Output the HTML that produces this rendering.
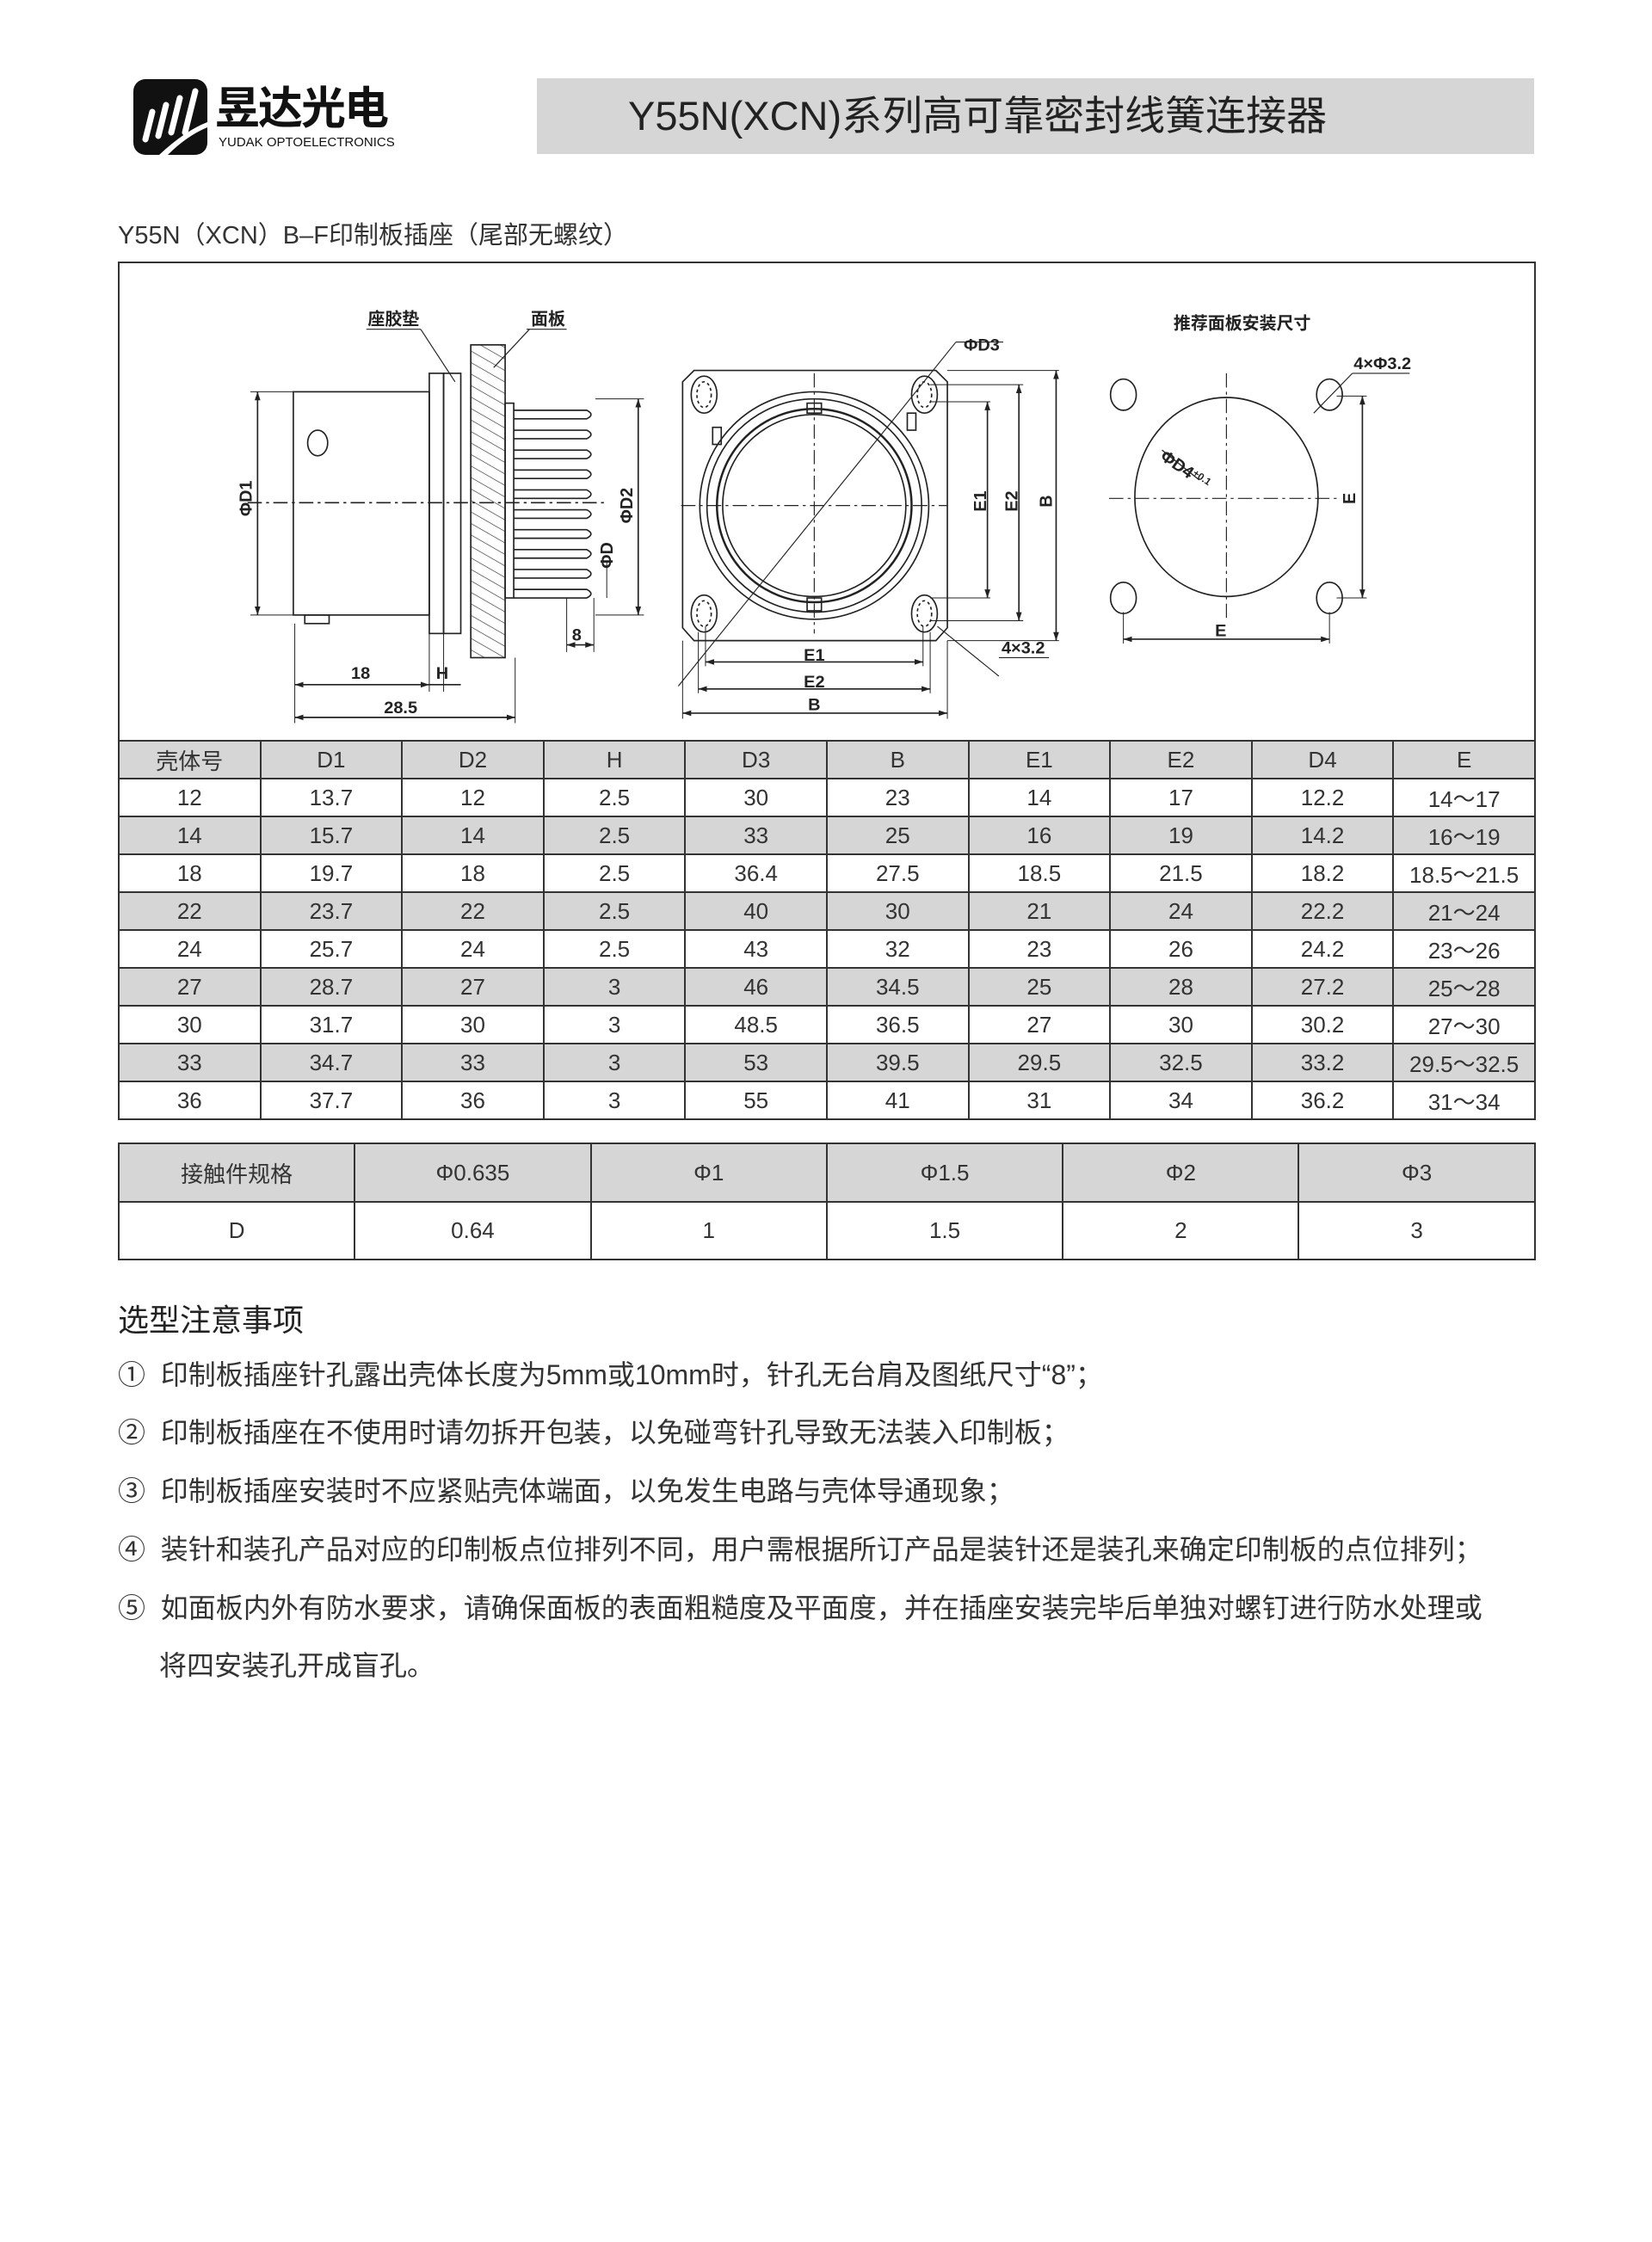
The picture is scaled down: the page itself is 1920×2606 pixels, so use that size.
<!DOCTYPE html>
<html><head><meta charset="utf-8"><style>
body{margin:0;background:#fff;}
.page{position:relative;width:1920px;height:2606px;overflow:hidden;background:#fff;font-family:"Liberation Sans","Noto Sans CJK SC",sans-serif;color:#222;}
.abs{position:absolute;}
table{border-collapse:collapse;position:absolute;table-layout:fixed;font-family:"Liberation Sans Narrow","Liberation Sans","Noto Sans CJK SC",sans-serif;}
td{border:2px solid #333;text-align:center;font-size:26px;color:#333;padding:0;}
.g td{background:#d6d6d6;}
.note{position:absolute;left:137px;font-size:32px;color:#333;white-space:nowrap;}
</style></head><body><div class="page">
<div class="abs" style="left:155px;top:92px;width:86px;height:88px;background:#111;border-radius:14px;overflow:hidden">
<svg width="86" height="88" viewBox="0 0 86 88"><g stroke="#fff" stroke-width="7" stroke-linecap="round"><line x1="22" y1="38" x2="14" y2="70"/><line x1="38" y1="30" x2="29" y2="66"/><line x1="54" y1="22" x2="44" y2="62"/><line x1="72" y1="14" x2="60" y2="62"/></g><path d="M30 88 Q60 60 86 50 L86 56 Q62 66 40 88Z" fill="#fff"/></svg></div>
<div class="abs" style="left:250px;top:92px;font-size:52px;font-weight:bold;color:#111;font-family:'Noto Sans CJK SC',sans-serif;line-height:60px;letter-spacing:-2px">昱达光电</div>
<div class="abs" style="left:254px;top:157px;font-size:15px;color:#111;">YUDAK OPTOELECTRONICS</div>
<div class="abs" style="left:624px;top:91px;width:1159px;height:88px;background:#d6d6d6;"></div>
<div class="abs" style="left:730px;top:91px;height:88px;line-height:88px;font-size:47px;color:#222;white-space:nowrap;font-family:'Liberation Sans Narrow','Liberation Sans','Noto Sans CJK SC',sans-serif">Y55N(XCN)系列高可靠密封线簧连接器</div>
<div class="abs" style="left:137px;top:250px;font-size:29px;color:#333;font-family:'Liberation Sans Narrow','Liberation Sans','Noto Sans CJK SC',sans-serif">Y55N（XCN）B–F印制板插座（尾部无螺纹）</div>
<div class="abs" style="left:137px;top:304px;width:1644px;height:556px;border:2px solid #333;border-bottom:none;"></div>
<svg class="abs" style="left:138px;top:305px" width="1645" height="552" viewBox="83 184 989 334" preserveAspectRatio="none" font-family="Liberation Sans, Noto Sans CJK SC, sans-serif" font-weight="bold" font-size="12" fill="none" stroke="#222" stroke-width="1">
<defs><pattern id="h" width="7" height="7" patternUnits="userSpaceOnUse" patternTransform="rotate(-60)"><line x1="0" y1="0" x2="0" y2="7" stroke="#333" stroke-width="0.8"/></pattern>
<marker id="a" markerWidth="6" markerHeight="6" refX="6" refY="3" orient="auto-start-reverse"><path d="M0,1 L6,3 L0,5Z" fill="#222" stroke="none"/></marker></defs>
<rect x="205" y="275" width="95" height="157"/>
<ellipse cx="222" cy="311" rx="7" ry="9"/>
<rect x="213" y="432" width="17" height="6"/>
<rect x="300" y="262" width="10" height="183"/><rect x="310" y="262" width="12" height="183"/>
<rect x="329" y="242" width="24" height="220" fill="url(#h)"/>
<rect x="353" y="283" width="6" height="137"/>
<g stroke-width="1">
<path d="M359 288 H410 Q416 291 410 294 H359"/><path d="M359 302 H410 Q416 305 410 308 H359"/><path d="M359 316 H410 Q416 319 410 322 H359"/><path d="M359 330 H410 Q416 333 410 336 H359"/><path d="M359 344 H410 Q416 347 410 350 H359"/><path d="M359 358 H410 Q416 361 410 364 H359"/><path d="M359 372 H410 Q416 375 410 378 H359"/><path d="M359 386 H410 Q416 389 410 392 H359"/><path d="M359 400 H410 Q416 403 410 406 H359"/><path d="M359 414 H410 Q416 417 410 420 H359"/>
</g>
<line x1="173" y1="353" x2="425" y2="353" stroke-dasharray="10 3 2 3"/>
<line x1="180" y1="275" x2="180" y2="432" marker-start="url(#a)" marker-end="url(#a)"/>
<line x1="175" y1="275" x2="205" y2="275" stroke-width=".6"/><line x1="175" y1="432" x2="205" y2="432" stroke-width=".6"/>
<line x1="446" y1="280" x2="446" y2="432" marker-start="url(#a)" marker-end="url(#a)"/>
<line x1="416" y1="280" x2="450" y2="280" stroke-width=".6"/><line x1="416" y1="432" x2="450" y2="432" stroke-width=".6"/>
<line x1="424" y1="395" x2="424" y2="420" stroke-width=".6"/>
<line x1="206" y1="438" x2="206" y2="508" stroke-width=".6"/><line x1="300" y1="445" x2="300" y2="486" stroke-width=".6"/><line x1="310" y1="445" x2="310" y2="486" stroke-width=".6"/><line x1="360" y1="462" x2="360" y2="508" stroke-width=".6"/>
<line x1="396" y1="420" x2="396" y2="458" stroke-width=".6"/><line x1="415" y1="420" x2="415" y2="458" stroke-width=".6"/>
<line x1="396" y1="453" x2="415" y2="453" marker-start="url(#a)" marker-end="url(#a)"/>
<line x1="206" y1="481" x2="300" y2="481" marker-start="url(#a)" marker-end="url(#a)"/>
<line x1="300" y1="481" x2="322" y2="481"/>
<line x1="206" y1="504" x2="360" y2="504" marker-start="url(#a)" marker-end="url(#a)"/>
<g fill="#222" stroke="none">
<text x="252" y="477" text-anchor="middle">18</text><text x="309" y="477" text-anchor="middle">H</text><text x="280" y="501" text-anchor="middle">28.5</text><text x="403" y="450" text-anchor="middle">8</text>
<text transform="translate(176,350) rotate(-90)" text-anchor="middle">ΦD1</text>
<text transform="translate(442,355) rotate(-90)" text-anchor="middle">ΦD2</text>
<text transform="translate(428,390) rotate(-90)" text-anchor="middle">ΦD</text>
<text x="275" y="228" text-anchor="middle">座胶垫</text><text x="383" y="228" text-anchor="middle">面板</text>
</g>
<line x1="256" y1="231" x2="294" y2="231" stroke-width=".7"/><line x1="368" y1="231" x2="396" y2="231" stroke-width=".7"/>
<line x1="294" y1="231" x2="318" y2="268" stroke-width=".7"/><line x1="370" y1="231" x2="345" y2="258" stroke-width=".7"/>
<path d="M485 260 H654 L662 268 V441 L654 450 H485 L477 441 V268Z"/>
<g>
<ellipse cx="492" cy="277" rx="9" ry="13"/><ellipse cx="646" cy="277" rx="9" ry="13"/><ellipse cx="492" cy="431" rx="9" ry="13"/><ellipse cx="646" cy="431" rx="9" ry="13"/>
<ellipse cx="492" cy="277" rx="5" ry="9" stroke-dasharray="2 2"/><ellipse cx="646" cy="277" rx="5" ry="9" stroke-dasharray="2 2"/><ellipse cx="492" cy="431" rx="5" ry="9" stroke-dasharray="2 2"/><ellipse cx="646" cy="431" rx="5" ry="9" stroke-dasharray="2 2"/>
</g>
<circle cx="569" cy="355" r="80"/><circle cx="569" cy="355" r="75"/><circle cx="569" cy="355" r="68" stroke-width="1.5"/><circle cx="569" cy="355" r="64"/>
<rect x="564" y="283" width="10" height="7"/><rect x="564" y="420" width="10" height="9"/><rect x="634" y="290" width="6" height="12"/><rect x="498" y="300" width="6" height="12"/>
<line x1="569" y1="262" x2="569" y2="445" stroke-dasharray="10 3 2 3" stroke-width=".7"/>
<line x1="476" y1="355" x2="662" y2="355" stroke-dasharray="10 3 2 3" stroke-width=".7"/>
<line x1="474" y1="482" x2="668" y2="240" stroke-width=".7"/>
<line x1="668" y1="240" x2="701" y2="240" stroke-width=".7"/>
<line x1="650" y1="282" x2="692" y2="282" stroke-width=".6"/><line x1="650" y1="420" x2="692" y2="420" stroke-width=".6"/>
<line x1="650" y1="270" x2="715" y2="270" stroke-width=".6"/><line x1="650" y1="436" x2="715" y2="436" stroke-width=".6"/>
<line x1="662" y1="260" x2="740" y2="260" stroke-width=".6"/><line x1="662" y1="450" x2="740" y2="450" stroke-width=".6"/>
<line x1="690" y1="282" x2="690" y2="420" marker-start="url(#a)" marker-end="url(#a)"/>
<line x1="712" y1="270" x2="712" y2="436" marker-start="url(#a)" marker-end="url(#a)"/>
<line x1="738" y1="260" x2="738" y2="450" marker-start="url(#a)" marker-end="url(#a)"/>
<line x1="493" y1="440" x2="493" y2="468" stroke-width=".6"/><line x1="645" y1="440" x2="645" y2="468" stroke-width=".6"/>
<line x1="488" y1="444" x2="488" y2="487" stroke-width=".6"/><line x1="650" y1="444" x2="650" y2="487" stroke-width=".6"/>
<line x1="477" y1="450" x2="477" y2="505" stroke-width=".6"/><line x1="662" y1="450" x2="662" y2="505" stroke-width=".6"/>
<line x1="493" y1="465" x2="645" y2="465" marker-start="url(#a)" marker-end="url(#a)"/>
<line x1="488" y1="484" x2="650" y2="484" marker-start="url(#a)" marker-end="url(#a)"/>
<line x1="477" y1="501" x2="662" y2="501" marker-start="url(#a)" marker-end="url(#a)"/>
<line x1="655" y1="440" x2="698" y2="475" stroke-width=".7"/><line x1="698" y1="462" x2="733" y2="462" stroke-width=".7"/>
<g fill="#222" stroke="none">
<text x="686" y="246" text-anchor="middle">ΦD3</text>
<text x="569" y="464" text-anchor="middle">E1</text><text x="569" y="483" text-anchor="middle">E2</text><text x="569" y="499" text-anchor="middle">B</text>
<text transform="translate(689,352) rotate(-90)" text-anchor="middle">E1</text>
<text transform="translate(711,352) rotate(-90)" text-anchor="middle">E2</text>
<text transform="translate(735,352) rotate(-90)" text-anchor="middle">B</text>
<text x="715" y="459" text-anchor="middle">4×3.2</text>
<text x="868" y="231" text-anchor="middle">推荐面板安装尺寸</text>
<text x="966" y="259" text-anchor="middle">4×Φ3.2</text>
<text x="853" y="447" text-anchor="middle">E</text>
<text transform="translate(947,350) rotate(-90)" text-anchor="middle">E</text>
<text transform="translate(810,322) rotate(35)">ΦD4<tspan font-size="7" dy="-4">+0.1</tspan></text>
</g>
<ellipse cx="785" cy="277" rx="9" ry="11"/><ellipse cx="929" cy="277" rx="9" ry="11"/><ellipse cx="785" cy="420" rx="9" ry="11"/><ellipse cx="929" cy="420" rx="9" ry="11"/>
<ellipse cx="857" cy="349" rx="64" ry="70"/>
<line x1="857" y1="262" x2="857" y2="436" stroke-dasharray="10 3 2 3" stroke-width=".7"/>
<line x1="775" y1="350" x2="935" y2="350" stroke-dasharray="10 3 2 3" stroke-width=".7"/>
<line x1="812" y1="316" x2="838" y2="337" stroke-width=".8"/>
<line x1="934" y1="278" x2="955" y2="278" stroke-width=".6"/><line x1="934" y1="420" x2="955" y2="420" stroke-width=".6"/>
<line x1="952" y1="278" x2="952" y2="420" marker-start="url(#a)" marker-end="url(#a)"/>
<line x1="785" y1="430" x2="785" y2="452" stroke-width=".6"/><line x1="929" y1="430" x2="929" y2="452" stroke-width=".6"/>
<line x1="785" y1="449" x2="929" y2="449" marker-start="url(#a)" marker-end="url(#a)"/>
<line x1="918" y1="290" x2="945" y2="262" stroke-width=".7"/><line x1="945" y1="262" x2="985" y2="262" stroke-width=".7"/>
</svg>
<table style="left:137px;top:860px;width:1646px;">
<colgroup><col span="10" style="width:164.6px"></colgroup>
<tr class="g" style="height:44px"><td>壳体号</td><td>D1</td><td>D2</td><td>H</td><td>D3</td><td>B</td><td>E1</td><td>E2</td><td>D4</td><td>E</td></tr>
<tr style="height:44px"><td>12</td><td>13.7</td><td>12</td><td>2.5</td><td>30</td><td>23</td><td>14</td><td>17</td><td>12.2</td><td>14～17</td></tr>
<tr class="g" style="height:44px"><td>14</td><td>15.7</td><td>14</td><td>2.5</td><td>33</td><td>25</td><td>16</td><td>19</td><td>14.2</td><td>16～19</td></tr>
<tr style="height:44px"><td>18</td><td>19.7</td><td>18</td><td>2.5</td><td>36.4</td><td>27.5</td><td>18.5</td><td>21.5</td><td>18.2</td><td>18.5～21.5</td></tr>
<tr class="g" style="height:44px"><td>22</td><td>23.7</td><td>22</td><td>2.5</td><td>40</td><td>30</td><td>21</td><td>24</td><td>22.2</td><td>21～24</td></tr>
<tr style="height:44px"><td>24</td><td>25.7</td><td>24</td><td>2.5</td><td>43</td><td>32</td><td>23</td><td>26</td><td>24.2</td><td>23～26</td></tr>
<tr class="g" style="height:44px"><td>27</td><td>28.7</td><td>27</td><td>3</td><td>46</td><td>34.5</td><td>25</td><td>28</td><td>27.2</td><td>25～28</td></tr>
<tr style="height:44px"><td>30</td><td>31.7</td><td>30</td><td>3</td><td>48.5</td><td>36.5</td><td>27</td><td>30</td><td>30.2</td><td>27～30</td></tr>
<tr class="g" style="height:44px"><td>33</td><td>34.7</td><td>33</td><td>3</td><td>53</td><td>39.5</td><td>29.5</td><td>32.5</td><td>33.2</td><td>29.5～32.5</td></tr>
<tr style="height:44px"><td>36</td><td>37.7</td><td>36</td><td>3</td><td>55</td><td>41</td><td>31</td><td>34</td><td>36.2</td><td>31～34</td></tr>
</table>
<table style="left:137px;top:1328px;width:1646px;">
<colgroup><col span="6" style="width:274.3px"></colgroup>
<tr class="g" style="height:68px"><td>接触件规格</td><td>Φ0.635</td><td>Φ1</td><td>Φ1.5</td><td>Φ2</td><td>Φ3</td></tr>
<tr style="height:67px"><td>D</td><td>0.64</td><td>1</td><td>1.5</td><td>2</td><td>3</td></tr>
</table>
<div class="abs" style="left:137px;top:1506px;font-size:36px;color:#222;font-family:'Noto Sans CJK SC',sans-serif">选型注意事项</div>
<div class="note" style="top:1573px">①&nbsp; 印制板插座针孔露出壳体长度为5mm或10mm时，针孔无台肩及图纸尺寸“8”；</div>
<div class="note" style="top:1640px">②&nbsp; 印制板插座在不使用时请勿拆开包装，以免碰弯针孔导致无法装入印制板；</div>
<div class="note" style="top:1708px">③&nbsp; 印制板插座安装时不应紧贴壳体端面，以免发生电路与壳体导通现象；</div>
<div class="note" style="top:1776px">④&nbsp; 装针和装孔产品对应的印制板点位排列不同，用户需根据所订产品是装针还是装孔来确定印制板的点位排列；</div>
<div class="note" style="top:1844px">⑤&nbsp; 如面板内外有防水要求，请确保面板的表面粗糙度及平面度，并在插座安装完毕后单独对螺钉进行防水处理或</div>
<div class="note" style="top:1911px;left:185px">将四安装孔开成盲孔。</div>
</div></body></html>
